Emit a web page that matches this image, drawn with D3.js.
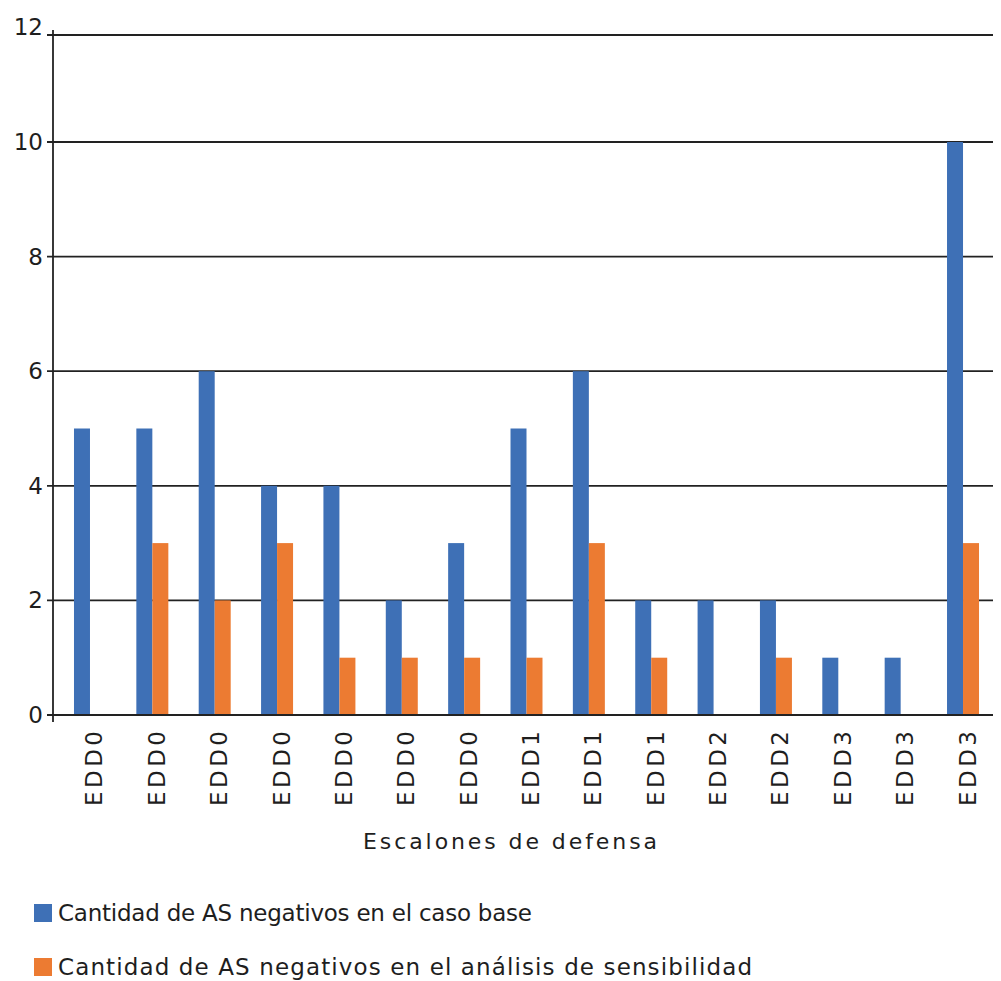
<!DOCTYPE html>
<html>
<head>
<meta charset="utf-8">
<script src="https://cdn.jsdelivr.net/npm/d3@7"></script>
<style>
  html, body { margin: 0; padding: 0; background: #fff; }
  svg { display: block; }
  text { font-family: "DejaVu Sans", Verdana, sans-serif; fill: #1e1e1e; }
</style>
</head>
<body>
<svg id="chart" width="1001" height="981"></svg>
<script>
const categories = ["EDD0","EDD0","EDD0","EDD0","EDD0","EDD0","EDD0","EDD1","EDD1","EDD1","EDD2","EDD2","EDD3","EDD3","EDD3"];
const baseValues = [5,5,6,4,4,2,3,5,6,2,2,2,1,1,10];
const sensValues = [0,3,2,3,1,1,1,1,3,1,0,1,0,0,3];
const seriesNames = ["Cantidad de AS negativos en el caso base", "Cantidad de AS negativos en el análisis de sensibilidad"];
const yTicks = [0,2,4,6,8,10,12];
const xTitle = "Escalones de defensa";

const colors = ["#3e70b6", "#ec7b32"];
const svg = d3.select("#chart");

const plotLeft = 53, plotRight = 993, plotTop = 35;
const y = d3.scaleLinear().domain([0, 12]).range([715, 27.4]);
const x = d3.scaleBand().domain(d3.range(categories.length))
  .range([58.8, 994.2]).paddingInner(0.487).paddingOuter(0.2435);
const xs = d3.scaleBand().domain([0, 1]).range([0, x.bandwidth()]);

// gridlines
const g = svg.append("g");
g.selectAll("line.grid").data(yTicks.filter(t => t > 0 && t < 12)).join("line")
  .attr("x1", plotLeft - 6).attr("x2", plotRight)
  .attr("y1", d => y(d)).attr("y2", d => y(d))
  .attr("stroke", "#222").attr("stroke-width", 1.8);
// top frame line
g.append("line").attr("x1", plotLeft - 6).attr("x2", plotRight)
  .attr("y1", plotTop).attr("y2", plotTop).attr("stroke", "#222").attr("stroke-width", 1.8);

// bars
const data = categories.map((c, i) => ({i, vals: [baseValues[i], sensValues[i]]}));
const groups = svg.append("g").selectAll("g").data(data).join("g")
  .attr("transform", d => `translate(${x(d.i)},0)`);
groups.selectAll("rect").data(d => d.vals.map((v, k) => ({v, k}))).join("rect")
  .attr("x", d => xs(d.k)).attr("width", xs.bandwidth())
  .attr("y", d => y(d.v)).attr("height", d => y(0) - y(d.v))
  .attr("fill", d => colors[d.k]);

// x axis baseline
svg.append("line").attr("x1", plotLeft - 6).attr("x2", plotRight)
  .attr("y1", y(0)).attr("y2", y(0)).attr("stroke", "#222").attr("stroke-width", 1.8);
// y axis line
svg.append("line").attr("x1", plotLeft).attr("x2", plotLeft)
  .attr("y1", 30).attr("y2", 722).attr("stroke", "#222").attr("stroke-width", 1.8);

// y tick labels
svg.append("g").selectAll("text").data(yTicks).join("text")
  .attr("x", 43).attr("y", d => y(d))
  .attr("text-anchor", "end").attr("dominant-baseline", "central")
  .style("font-size", "23px").text(d => d);

// x tick labels (rotated)
svg.append("g").selectAll("text").data(data).join("text")
  .attr("transform", d => `translate(${x(d.i) + x.bandwidth() / 2 + 4.5},731) rotate(-90)`)
  .attr("text-anchor", "end").attr("dominant-baseline", "central")
  .attr("textLength", 75).attr("lengthAdjust", "spacing")
  .style("font-size", "23px").text(d => categories[d.i]);

// x axis title
svg.append("text").attr("x", 510).attr("y", 849).attr("text-anchor", "middle")
  .attr("textLength", 294).attr("lengthAdjust", "spacing")
  .style("font-size", "22px").text(xTitle);

// legend
const legendY = [904, 958];
const legendW = [474, 694];
const lg = svg.append("g").selectAll("g").data(seriesNames).join("g");
lg.append("rect").attr("x", 34).attr("y", (d, i) => legendY[i]).attr("width", 18).attr("height", 18)
  .attr("fill", (d, i) => colors[i]);
lg.append("text").attr("x", 58).attr("y", (d, i) => legendY[i] + 17)
  .attr("textLength", (d, i) => legendW[i]).attr("lengthAdjust", "spacing")
  .style("font-size", "23px").text(d => d);
</script>
</body>
</html>
